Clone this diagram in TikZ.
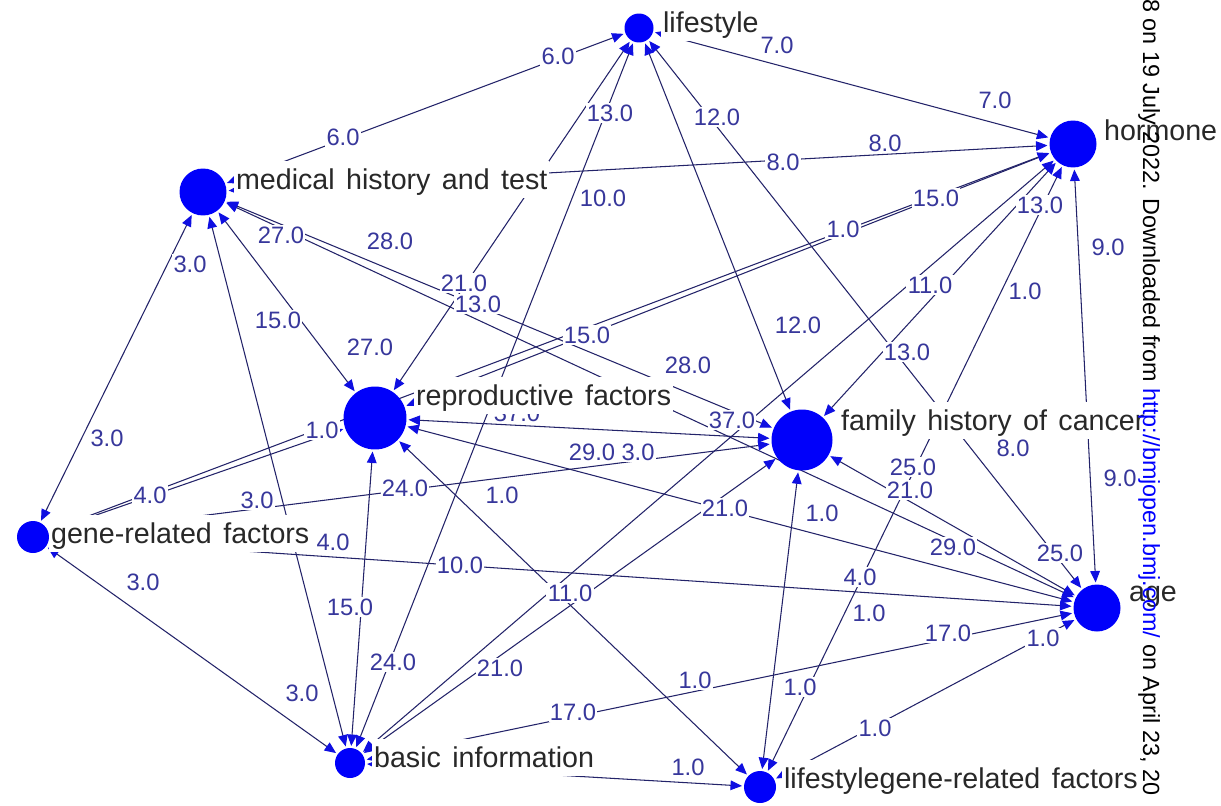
\documentclass[tikz,border=0pt]{standalone}
\usepackage{fontspec}
\setmainfont{Liberation Sans}
\usetikzlibrary{arrows.meta}
\definecolor{linecol}{RGB}{35,35,105}
\definecolor{arrowcol}{RGB}{15,15,225}
\definecolor{nodecol}{RGB}{0,0,250}
\definecolor{elabcol}{RGB}{55,55,155}
\definecolor{nlabcol}{RGB}{40,40,40}
\definecolor{urlcol}{RGB}{0,0,255}
\newcommand{\widespaces}{\spaceskip=0.4em\relax}
\pgfdeclarelayer{edgelayer}
\pgfsetlayers{edgelayer,main}
\begin{document}
\begin{tikzpicture}[x=0.02cm,y=-0.02cm,
  >={Triangle[length=6.5pt,width=5.5pt,color=arrowcol]},
  vert/.style={circle, fill=nodecol, draw=none, inner sep=0pt, minimum size=#1},
  edge/.style={draw=linecol, line width=0.6pt, <->, shorten <=1pt, shorten >=1pt},
  nlab/.style={anchor=base west, font=\fontsize{16.3}{18}\selectfont, text=nlabcol,
    fill=white, inner xsep=1pt, inner ysep=1.5pt, text height=14.5pt, text depth=3.6pt,
    execute at begin node=\widespaces},
  elab/.style={font=\fontsize{13.5}{15}\selectfont, text=elabcol, fill=white, inner sep=0.8pt}]
\useasboundingbox (0,0) rectangle (1221,805);
\begin{pgfonlayer}{edgelayer}
\fill[white] (0,0) rectangle (1221,805);
\end{pgfonlayer}

% vertices
\node[vert=0.58cm] (L)  at (639,28)  {};
\node[vert=0.94cm] (HO) at (1073,144) {};
\node[vert=0.94cm] (MH) at (203,192) {};
\node[vert=1.26cm] (RF) at (375,418) {};
\node[vert=1.22cm] (FH) at (802,440) {};
\node[vert=0.64cm] (GR) at (33,537)  {};
\node[vert=0.94cm] (AG) at (1097,608) {};
\node[vert=0.60cm] (BI) at (350,763) {};
\node[vert=0.64cm] (LG) at (760,787) {};

% connectors
\begin{pgfonlayer}{edgelayer}
\draw[edge] (MH) -- (L);
\draw[edge] (L) -- (HO);
\draw[edge] (MH) -- (HO);
\draw[edge] (L) -- (RF);
\draw[edge] (L) -- (BI);
\draw[edge] (L) -- (FH);
\draw[edge] (L) -- (AG);
\draw[edge] (MH) -- (GR);
\draw[edge] (MH) -- (BI);
\draw[edge] (MH) -- (RF);
\draw[edge] (MH) -- (FH);
\draw[edge] (MH) -- (AG);
\draw[edge] (GR) -- (HO);
\draw[edge] (GR) -- (RF);
\draw[edge] (RF) -- (HO);
\draw[edge] (GR) -- (FH);
\draw[edge] (GR) -- (AG);
\draw[edge] (GR) -- (BI);
\draw[edge] (RF) -- (FH);
\draw[edge] (RF) -- (AG);
\draw[edge] (RF) -- (BI);
\draw[edge] (RF) -- (LG);
\draw[edge] (HO) -- (FH);
\draw[edge] (HO) -- (BI);
\draw[edge] (HO) -- (LG);
\draw[edge] (HO) -- (AG);
\draw[edge] (FH) -- (AG);
\draw[edge] (FH) -- (LG);
\draw[edge] (BI) -- (FH);
\draw[edge] (BI) -- (AG);
\draw[edge] (BI) -- (LG);
\draw[edge] (LG) -- (AG);
\end{pgfonlayer}

% connector labels
\foreach \n/\x/\y/\t in {
 1/558/56/6.0, 2/343/137/6.0, 3/777/45/7.0, 4/995/100/7.0, 5/610/113/13.0,
 6/717/117/12.0, 7/783/162/8.0, 8/885/143/8.0, 9/603/198/10.0, 10/936/198/15.0,
 11/843/229/1.0, 12/1040/205/13.0, 13/1108/247/9.0, 14/281/235/27.0, 15/390/241/28.0,
 16/190/264/3.0, 17/464/283/21.0, 18/478/304/13.0, 19/930/285/11.0, 20/1025/291/1.0,
 21/278/320/15.0, 22/370/347/27.0, 23/587/335/15.0, 24/798/325/12.0, 25/688/365/28.0,
 26/907/352/13.0, 27/517/413/37.0, 28/732/420/37.0, 29/322/430/1.0, 30/107/438/3.0,
 31/1013/448/8.0, 32/592/452/29.0, 33/638/452/3.0, 34/913/467/25.0, 35/910/490/21.0,
 36/1120/478/9.0, 37/150/495/4.0, 38/257/500/3.0, 39/405/488/24.0, 40/502/495/1.0,
 41/725/508/21.0, 42/822/513/1.0, 43/953/547/29.0, 44/1060/553/25.0, 45/333/542/4.0,
 46/460/565/10.0, 47/143/582/3.0, 48/860/577/4.0, 49/570/593/11.0, 50/869/613/1.0,
 51/350/607/15.0, 52/948/633/17.0, 53/1043/638/1.0, 54/393/662/24.0, 55/302/693/3.0,
 56/500/668/21.0, 57/695/680/1.0, 58/800/687/1.0, 59/573/712/17.0, 60/875/728/1.0,
 61/688/767/1.0}
 \node[elab] (l\n) at (\x,\y) {\t};

% vertex labels
\node[nlab] (tL)  at (661,32)  {lifestyle};
\node[nlab] (tHO) at (1102,140) {hormone};
\node[nlab] (tMH) at (234,189) {medical history and test};
\node[nlab] (tRF) at (414,405) {reproductive factors};
\node[nlab] (tFH) at (839,430) {family history of cancer};
\node[nlab] (tGR) at (49,543)  {gene-related factors};
\node[nlab] (tAG) at (1127,601) {age};
\node[nlab] (tBI) at (372,767) {basic information};
\node[nlab] (tLG) at (782,788) {lifestylegene-related factors};

% side note
\node[rotate=-90, anchor=base west, font=\fontsize{13.3}{15}\selectfont, inner sep=0pt]
  (wm) at (1143,-1) {8 on 19 July 2022. Downloaded from \textcolor{urlcol}{http://bmjopen.bmj.com/} on April 23, 20};
\end{tikzpicture}
\end{document}
